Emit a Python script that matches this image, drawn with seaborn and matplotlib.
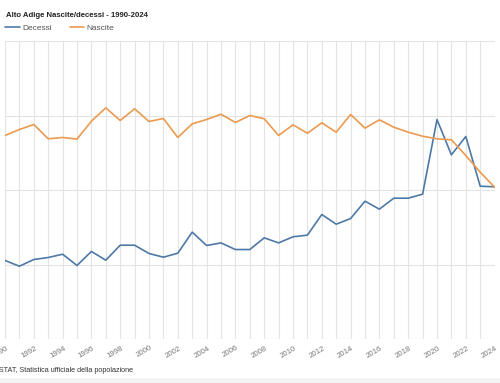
import numpy as np
import pandas as pd
import seaborn as sns
import matplotlib.pyplot as plt
import matplotlib.transforms as mtransforms

years = list(range(1990, 2025))
decessi = [3554, 3477, 3567, 3594, 3638, 3487, 3675, 3558, 3759, 3759,
           3648, 3598, 3652, 3934, 3755, 3790, 3701, 3701, 3858, 3790,
           3872, 3894, 4171, 4041, 4117, 4350, 4243, 4390, 4390, 4444,
           5446, 4972, 5218, 4551, 4543]
nascite = [5232, 5312, 5379, 5187, 5205, 5183, 5424, 5603, 5433, 5590,
           5419, 5460, 5205, 5388, 5446, 5517, 5406, 5500, 5456, 5232,
           5375, 5262, 5402, 5276, 5513, 5330, 5442, 5343, 5276, 5222,
           5187, 5174, 4963, 4739, 4538]
tick_years = list(range(1990, 2025, 2))

df = pd.DataFrame({
    "anno": years * 2,
    "valore": decessi + nascite,
    "serie": ["Decessi"] * len(years) + ["Nascite"] * len(years),
})

sns.set_theme(style="white")
plt.rcParams["font.family"] = ["Liberation Sans", "DejaVu Sans"]

fig = plt.figure(figsize=(5.0, 3.83), dpi=100)
# faint grey strip along the bottom edge
fig.patches.append(plt.Rectangle((0, 0), 1, 5 / 383, transform=fig.transFigure,
                                 facecolor="#f4f4f4", edgecolor="none", zorder=0))
ax = fig.add_axes([5 / 500, (383 - 339) / 383, 489.6 / 500, 298 / 383])

palette = {"Decessi": "#4e79a7", "Nascite": "#eb9a4f"}
sns.lineplot(data=df, x="anno", y="valore", hue="serie", palette=palette,
             linewidth=1.2, ax=ax, legend=False)

ax.set_xlim(1990, 2024)
ax.set_ylim(2500, 6500)
ax.set_xticks(years, minor=True)
ax.set_xticks(tick_years)
ax.set_yticks(np.arange(2500, 6501, 1000))
ax.grid(True, which="both", axis="x", color="#e3e3e3", linewidth=0.8)
ax.grid(True, axis="y", color="#e3e3e3", linewidth=0.8)
ax.set_axisbelow(True)
for s in ax.spines.values():
    s.set_visible(False)
ax.set_xlabel("")
ax.set_ylabel("")
ax.set_yticklabels([])
ax.tick_params(axis="both", which="both", length=0)
ax.tick_params(axis="x", pad=4, labelsize=5.6, labelcolor="#777777")
offset = mtransforms.ScaledTranslation(1 / 100, 0, fig.dpi_scale_trans)
for lbl in ax.get_xticklabels():
    lbl.set_rotation(30)
    lbl.set_ha("right")
    lbl.set_rotation_mode("anchor")
    lbl.set_transform(lbl.get_transform() + offset)

fig.text(6 / 500, 1 - 15.5 / 383, "Alto Adige Nascite/decessi - 1990-2024",
         fontsize=5.6, fontweight="bold", color="#222222", va="center")

handles = [plt.Line2D([], [], color=palette[k], linewidth=1.2) for k in ["Decessi", "Nascite"]]
fig.legend(handles, ["Decessi", "Nascite"], loc="center left",
           bbox_to_anchor=(2 / 500, 1 - 28 / 383), ncol=2, frameon=False,
           fontsize=6.0, handlelength=1.7, handletextpad=0.3,
           columnspacing=2.2, labelcolor="#555555", borderaxespad=0)

fig.text(-5.5 / 500, 1 - 370 / 383, "ASTAT, Statistica ufficiale della popolazione",
         fontsize=5.2, color="#333333", va="center")

fig.savefig("out.png", dpi=100)
